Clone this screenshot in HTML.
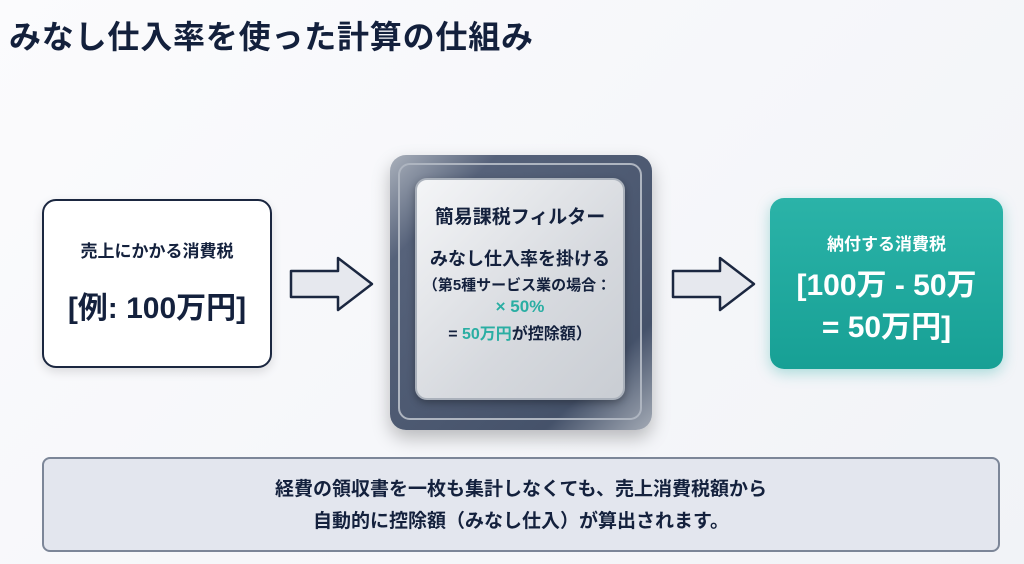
<!DOCTYPE html>
<html><head><meta charset="utf-8"><style>
body{margin:0;width:1024px;height:564px;background:linear-gradient(135deg,#fbfbfd,#f1f3f7);font-family:"Liberation Sans","Noto Sans CJK JP",sans-serif;color:#14213d;position:relative;overflow:hidden}
.a{position:absolute}
.t{left:9px;top:12px;font-size:32px;font-weight:bold;color:#13203c;letter-spacing:0.8px}
.lb{left:42px;top:199px;width:226px;height:165px;border:2px solid #1b2740;border-radius:14px;background:#fff;box-shadow:0 4px 10px rgba(0,0,0,.12);text-align:center}
.rb{left:770px;top:198px;width:233px;height:171px;border-radius:14px;background:linear-gradient(#2bb3a8,#17a095);box-shadow:0 4px 14px rgba(30,170,160,.35);color:#fff;text-align:center}
.bt{left:42px;top:457px;width:958px;border:2px solid #7c8698;border-radius:8px;background:#e3e6ee;text-align:center;font-size:19px;font-weight:bold;line-height:32px;padding-top:15px;box-sizing:border-box;height:95px}
.chip{left:390px;top:155px;width:262px;height:275px;border-radius:16px;background:linear-gradient(135deg,#a9b0bb,#56627a 20%,#45526a 80%,#a3aab5);box-shadow:0 8px 18px rgba(0,0,0,.25)}
.inner{left:415px;top:178px;width:210px;height:222px;border-radius:12px;background:linear-gradient(135deg,#f4f5f7,#d6d9de 60%,#c9cdd3);border:2px solid #aab1bb;box-shadow:0 3px 8px rgba(0,0,0,.3);text-align:center;box-sizing:border-box}
</style></head><body>
<div class="a t">みなし仕入率を使った計算の仕組み</div>
<div class="a lb"><div style="font-size:17px;font-weight:bold;margin-top:36px">売上にかかる消費税</div><div style="font-size:30px;font-weight:bold;margin-top:21px">[例: 100万円]</div></div>
<svg class="a" style="left:288px;top:255px" width="90" height="60"><path d="M3 16H50V3L84 29L50 55V42H3Z" fill="#e6e8ee" stroke="#1b2740" stroke-width="2.5" stroke-linejoin="round"/></svg>
<svg class="a" style="left:670px;top:255px" width="90" height="60"><path d="M3 16H50V3L84 29L50 55V42H3Z" fill="#e6e8ee" stroke="#1b2740" stroke-width="2.5" stroke-linejoin="round"/></svg>
<div class="a chip"></div>
<div class="a" style="left:398px;top:163px;width:244px;height:257px;border:2px solid #aeb5c0;border-radius:12px;box-sizing:border-box"></div>
<div class="a inner">
<div style="font-size:19px;font-weight:bold;margin-top:22px">簡易課税フィルター</div>
<div style="font-size:18px;font-weight:bold;margin-top:16px">みなし仕入率を掛ける</div>
<div style="font-size:15px;font-weight:bold;margin-top:3px;margin-left:-6px">（第5種サービス業の場合：</div>
<div style="font-size:17px;font-weight:bold;color:#2aaea3;margin-top:2px">× 50%</div>
<div style="font-size:16px;font-weight:bold;margin-top:3px">= <span style="color:#2aaea3">50万円</span>が控除額）</div>
</div>
<div class="a rb"><div style="font-size:17px;font-weight:bold;margin-top:32px">納付する消費税</div><div style="font-size:30px;font-weight:bold;margin-top:10px;line-height:42px">[100万 - 50万<br>= 50万円]</div></div>
<div class="a bt">経費の領収書を一枚も集計しなくても、売上消費税額から<br>自動的に控除額（みなし仕入）が算出されます。</div>
</body></html>
